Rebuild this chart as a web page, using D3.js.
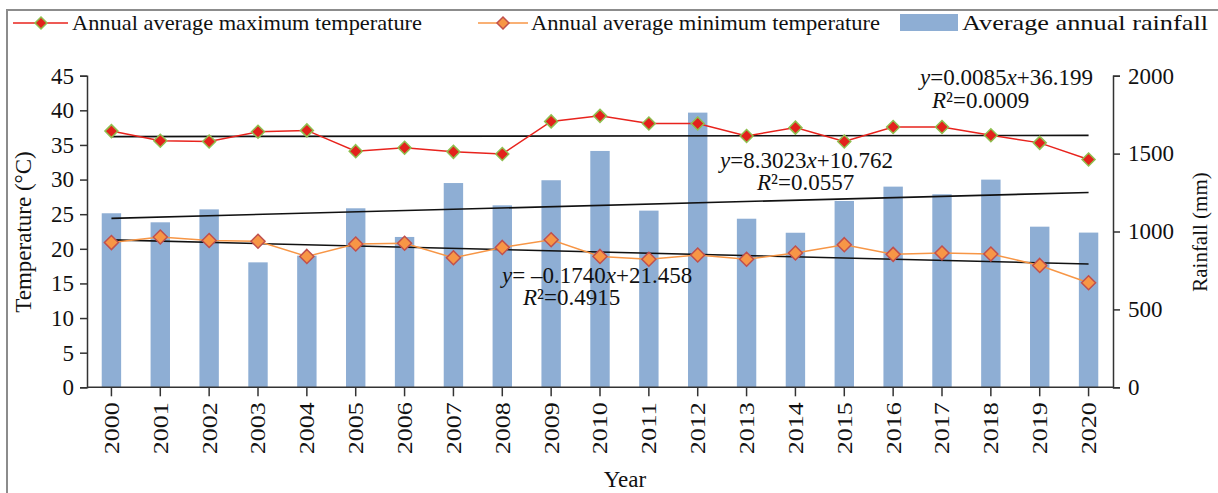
<!DOCTYPE html>
<html>
<head>
<meta charset="utf-8">
<title>Temperature and rainfall 2000-2020</title>
<script src="https://d3js.org/d3.v7.min.js"></script>
<style>
  body { margin: 0; background: #fff; }
  text { font-family: "Liberation Serif", "Times New Roman", serif; fill: #111; }
</style>
</head>
<body>
<svg width="1218" height="493"></svg>
<script>
// data
var years = d3.range(2000, 2021).map(String);
var maxTemp = [37.0, 35.6, 35.5, 36.9, 37.1, 34.1, 34.6, 34.0, 33.7, 38.4, 39.2,
               38.1, 38.1, 36.3, 37.5, 35.5, 37.6, 37.6, 36.4, 35.3, 32.9];
var minTemp = [20.9, 21.7, 21.2, 21.1, 18.9, 20.7, 20.8, 18.7, 20.2, 21.3, 18.9,
               18.5, 19.1, 18.5, 19.4, 20.6, 19.2, 19.4, 19.25, 17.6, 15.1];
var rainfall = [1117, 1059, 1142, 802, 845, 1149, 965, 1311, 1168, 1329, 1517,
                1134, 1763, 1082, 992, 1196, 1288, 1239, 1333, 1031, 993];
var tempTicks = d3.range(0, 50, 5);
var rainTicks = [0, 500, 1000, 1500, 2000];
// trend lines: slope, intercept (x = 1..21)
var maxTrend = [0.0085, 36.199];
var minTrend = [-0.1740, 21.458];
var rainTrend = [8.3023, 1076.2];

var svg = d3.select("svg");
var plotL = 87, plotR = 1113, plotT = 75.7, plotB = 387.3;

var x = d3.scaleBand().domain(years).range([plotL, plotR]).paddingInner(0.6).paddingOuter(0.3);
var xc = function(i) { return x(years[i]) + x.bandwidth() / 2; };
var yT = d3.scaleLinear().domain([0, 45]).range([plotB, plotT]);
var yR = d3.scaleLinear().domain([0, 2000]).range([plotB, plotT]);

// frame
svg.append("path").attr("d", "M7,493V10H1218")
  .attr("fill", "none").attr("stroke", "#8c8c8c").attr("stroke-width", 2);

// bars
svg.append("g").selectAll("rect").data(rainfall).enter().append("rect")
  .attr("x", function(d, i) { return xc(i) - 9.7; })
  .attr("width", 19.4)
  .attr("y", function(d) { return yR(d); })
  .attr("height", function(d) { return yR(0) - yR(d); })
  .attr("fill", "#8eaed4");

// axes
var axL = svg.append("g").attr("transform", "translate(" + plotL + ",0)")
  .call(d3.axisLeft(yT).tickValues(tempTicks).tickSize(7).tickPadding(6));
var axR = svg.append("g").attr("transform", "translate(" + plotR + ",0)")
  .call(d3.axisRight(yR).tickValues(rainTicks).tickFormat(d3.format("d")).tickSize(7).tickPadding(8));
var axB = svg.append("g").attr("transform", "translate(0," + plotB + ")")
  .call(d3.axisBottom(x).tickSize(9).tickSizeOuter(0).tickPadding(6));
[axL, axR, axB].forEach(function(a) {
  a.selectAll("path, line").attr("stroke", "#333").attr("stroke-width", 1.5);
  a.selectAll("text").attr("font-family", "Liberation Serif, serif").attr("font-size", 23).attr("fill", "#111");
});
axB.select(".domain").attr("d", "M" + plotL + ",0H" + plotR);
axB.selectAll("text")
  .attr("font-size", 21)
  .attr("transform", "rotate(-90)")
  .attr("text-anchor", "end")
  .attr("dy", "0.35em")
  .attr("x", -15).attr("y", 0)
  .attr("textLength", 52).attr("lengthAdjust", "spacingAndGlyphs");

// trend lines
function trend(c, scale) {
  svg.append("line")
    .attr("x1", xc(0)).attr("x2", xc(20))
    .attr("y1", scale(c[0] * 1 + c[1])).attr("y2", scale(c[0] * 21 + c[1]))
    .attr("stroke", "#111").attr("stroke-width", 1.6);
}
trend(maxTrend, yT);
trend(rainTrend, yR);
trend(minTrend, yT);

function diamond(g, cx, cy, r, fill, stroke, sw) {
  g.append("path")
    .attr("d", "M" + cx + "," + (cy - r) + "L" + (cx + r) + "," + cy + "L" + cx + "," + (cy + r) + "L" + (cx - r) + "," + cy + "Z")
    .attr("fill", fill).attr("stroke", stroke).attr("stroke-width", sw);
}

function series(vals, color, fill, stroke, r, sw) {
  var line = d3.line().x(function(d, i) { return xc(i); }).y(function(d) { return yT(d); });
  svg.append("path").datum(vals).attr("d", line)
    .attr("fill", "none").attr("stroke", color).attr("stroke-width", 1.5);
  var g = svg.append("g");
  vals.forEach(function(v, i) { diamond(g, xc(i), yT(v), r, fill, stroke, sw); });
}
series(maxTemp, "#e8231d", "#e3211c", "#8fbf4f", 6.5, 1.5);
series(minTemp, "#f79646", "#f79646", "#c0504d", 7, 1.5);

// equations
function eq(xp, yp, parts) {
  var t = svg.append("text").attr("x", xp).attr("y", yp).attr("font-size", 23);
  parts.forEach(function(p) {
    var s = t.append("tspan").text(p[0]);
    if (p[1]) s.attr("font-style", "italic");
  });
}
eq(920, 85, [["y", 1], ["=0.0085"], ["x", 1], ["+36.199"]]);
eq(932, 108, [["R", 1], ["²=0.0009"]]);
eq(720, 168, [["y", 1], ["=8.3023"], ["x", 1], ["+10.762"]]);
eq(757, 190, [["R", 1], ["²=0.0557"]]);
eq(502, 283, [["y", 1], ["= \u20130.1740"], ["x", 1], ["+21.458"]]);
eq(523, 305, [["R", 1], ["²=0.4915"]]);

// axis titles
svg.append("text").attr("transform", "translate(31,232) rotate(-90)")
  .attr("text-anchor", "middle").attr("font-size", 23).text("Temperature (°C)");
svg.append("text").attr("transform", "translate(1207,232) rotate(-90)")
  .attr("text-anchor", "middle").attr("font-size", 21).text("Rainfall (mm)");
svg.append("text").attr("x", 625).attr("y", 487)
  .attr("text-anchor", "middle").attr("font-size", 23).text("Year");

// legend
var lg = svg.append("g");
lg.append("line").attr("x1", 13).attr("x2", 68).attr("y1", 23).attr("y2", 23)
  .attr("stroke", "#e8231d").attr("stroke-width", 1.5);
diamond(lg, 41, 23, 6, "#e3211c", "#8fbf4f", 1.5);
lg.append("text").attr("x", 72).attr("y", 30).attr("font-size", 22)
  .attr("textLength", 350).attr("lengthAdjust", "spacingAndGlyphs")
  .text("Annual average maximum temperature");
lg.append("line").attr("x1", 478).attr("x2", 528).attr("y1", 23).attr("y2", 23)
  .attr("stroke", "#f79646").attr("stroke-width", 1.5);
diamond(lg, 503, 23, 6, "#f79646", "#c0504d", 1.5);
lg.append("text").attr("x", 531).attr("y", 30).attr("font-size", 22)
  .attr("textLength", 349).attr("lengthAdjust", "spacingAndGlyphs")
  .text("Annual average minimum temperature");
lg.append("rect").attr("x", 900).attr("y", 14).attr("width", 58).attr("height", 17)
  .attr("fill", "#8eaed4");
lg.append("text").attr("x", 962).attr("y", 30).attr("font-size", 22)
  .attr("textLength", 246).attr("lengthAdjust", "spacingAndGlyphs")
  .text("Average annual rainfall");
</script>
</body>
</html>
